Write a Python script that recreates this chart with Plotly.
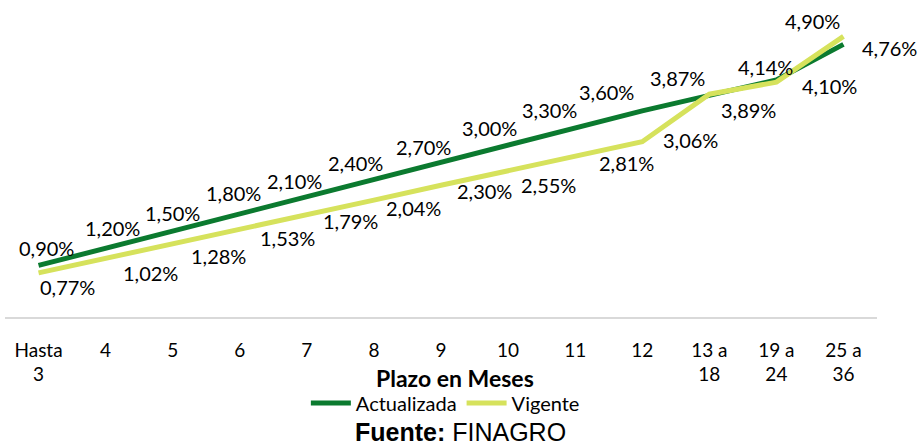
import plotly.graph_objects as go

CATEGORIES = ["Hasta<br>3", "4", "5", "6", "7", "8", "9", "10", "11", "12",
              "13 a<br>18", "19 a<br>24", "25 a<br>36"]
ACTUALIZADA = [0.90, 1.20, 1.50, 1.80, 2.10, 2.40, 2.70, 3.00, 3.30, 3.60,
               3.87, 4.14, 4.76]
VIGENTE = [0.77, 1.02, 1.28, 1.53, 1.79, 2.04, 2.30, 2.55, 2.81, 3.06,
           3.89, 4.10, 4.90]

DARK = "#0B7A2F"
LIGHT = "#D6E25C"
FONT = "Lato"

# pixel offsets of each data label from its point (dx right, dy down)
ACT_OFFSETS = [(8, -17), (7, -20), (0, -18), (-6, -21), (-12, -16), (-18, -17),
               (-18, -15), (-19, -17), (-26, -18), (-36, -19), (-32, -17),
               (-11, -13), (46, 4)]
VIG_OFFSETS = [(29, 14), (45, 14), (46, 12), (48, 9), (44, 7), (40, 8),
               (43, 6), (40, 14), (51, 7), (48, -2), (39, 16), (53, 4),
               (-31, -15)]


def pct(v):
    return f"{v:.2f}%".replace(".", ",")


fig = go.Figure()
fig.add_trace(go.Scatter(x=CATEGORIES, y=ACTUALIZADA, mode="lines",
                         name="Actualizada", line=dict(color=DARK, width=5)))
fig.add_trace(go.Scatter(x=CATEGORIES, y=VIGENTE, mode="lines",
                         name="Vigente", line=dict(color=LIGHT, width=5)))

annotations = []
for values, offsets in ((ACTUALIZADA, ACT_OFFSETS), (VIGENTE, VIG_OFFSETS)):
    for i, (v, (dx, dy)) in enumerate(zip(values, offsets)):
        annotations.append(dict(
            x=i, y=v, text=pct(v), showarrow=False,
            xshift=dx, yshift=-dy,
            font=dict(family=FONT, size=20, color="#000000"),
        ))

annotations.append(dict(
    xref="paper", yref="paper", x=0.516, y=0, yshift=-61,
    text="<b>Plazo en Meses</b>", showarrow=False, yanchor="middle",
    font=dict(family=FONT, size=23, color="#000000"),
))
annotations.append(dict(
    xref="paper", yref="paper", x=0.522, y=0, yshift=-115,
    text="<b>Fuente:</b> FINAGRO", showarrow=False, yanchor="middle",
    font=dict(family="Liberation Sans, Arial", size=25, color="#000000"),
))

fig.update_layout(
    width=923, height=448,
    margin=dict(l=5, r=46, t=2, b=131, autoexpand=False),
    paper_bgcolor="white", plot_bgcolor="white",
    showlegend=True,
    legend=dict(orientation="h", x=0.505, xanchor="center",
                yref="container", y=1 - 403 / 448, yanchor="middle",
                font=dict(family=FONT, size=20, color="#000000"),
                itemwidth=40, tracegroupgap=0),
    annotations=annotations,
    xaxis=dict(type="category", range=[-0.5, 12.5], showgrid=False,
               automargin=False,
               showline=True, linecolor="#D9D9D9", linewidth=1.5,
               ticks="", ticklabelstandoff=15,
               tickfont=dict(family=FONT, size=19, color="#000000")),
    yaxis=dict(range=[0, 5.5], visible=False, showgrid=False,
               automargin=False),
)

fig.write_html("out.html", config={"displayModeBar": False},
               post_script="document.body.style.margin='0';")
